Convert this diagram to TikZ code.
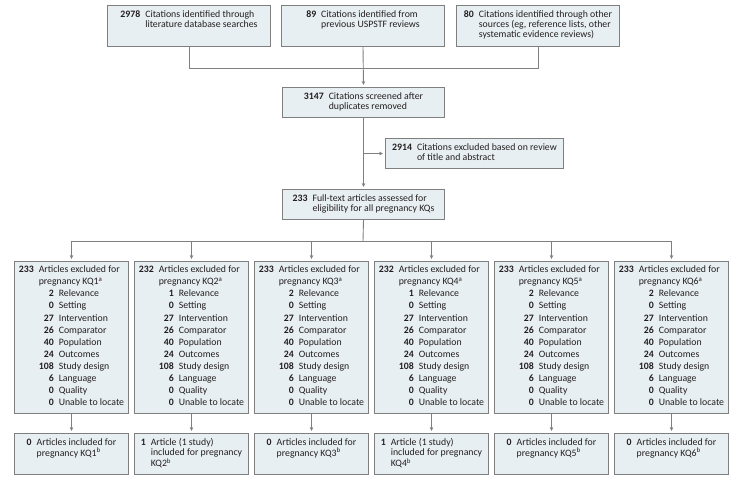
\documentclass[tikz,border=0pt]{standalone}
\usepackage{fontspec}
\setmainfont{Carlito}
\usetikzlibrary{arrows.meta}
\definecolor{boxfill}{HTML}{E8EFF3}
\definecolor{boxline}{HTML}{7F7F7F}
\definecolor{txtcol}{HTML}{231F20}
\tikzset{
  box/.style={draw=boxline, fill=boxfill, line width=1pt, inner sep=0pt, anchor=north west},
  toptext/.style={inner sep=0pt, text=txtcol, anchor=north, font=\fontsize{9.8}{10}\selectfont},
  kqtext/.style={inner sep=0pt, text=txtcol, anchor=north, font=\fontsize{9.8}{12.1}\selectfont},
  conn/.style={draw=boxline, line width=0.9pt},
  arr/.style={conn, -{Stealth[length=4pt,width=3.6pt]}, shorten >=2pt},
}
\newcommand\nl[2]{\begin{tabular}{@{}r@{\hspace{5pt}}l@{}}\textbf{#1} & #2\end{tabular}}
\newcommand\sub[2]{\makebox[15pt][r]{\textbf{#1}}\hspace{5pt}#2}
\begin{document}
\begin{tikzpicture}[x=1pt,y=-1pt]
\useasboundingbox (0,0) rectangle (743,484);
% top boxes
\node[box, minimum width=163pt, minimum height=41pt] (t1) at (107,5) {};
\node[toptext] (t1t) at ([yshift=-5pt]t1.north) {\nl{2978}{Citations identified through\\ & literature database searches}};
\node[box, minimum width=163pt, minimum height=41pt] (t2) at (281,5) {};
\node[toptext] (t2t) at ([yshift=-5pt]t2.north) {\nl{89}{Citations identified from\\ & previous USPSTF reviews}};
\node[box, minimum width=163pt, minimum height=41pt] (t3) at (456,5) {};
\node[toptext] (t3t) at ([yshift=-5pt]t3.north) {\nl{80}{Citations identified through other\\ & sources (eg, reference lists, other\\ & systematic evidence reviews)}};
% screened
\node[box, minimum width=162pt, minimum height=30pt] (s) at (282,87) {};
\node[toptext] (st) at ([yshift=-5pt]s.north) {\nl{3147}{Citations screened after\\ & duplicates removed}};
\node[box, minimum width=178pt, minimum height=30pt] (e) at (385,138) {};
\node[toptext] (et) at ([yshift=-5pt]e.north) {\nl{2914}{Citations excluded based on review\\ & of title and abstract}};
\node[box, minimum width=162pt, minimum height=30pt] (f) at (282,189) {};
\node[toptext] (ft) at ([yshift=-5pt]f.north) {\nl{233}{Full-text articles assessed for\\ & eligibility for all pregnancy KQs}};
% connectors top
\coordinate (m) at (363,68);
\draw[conn] (t1.south) |- (m);
\draw[conn] (t3.south) |- (m);
\draw[arr] (t2.south) -- (s.north);
\draw[arr] (s.south) -- (f.north);
\draw[arr] (s.south |- e.west) -- (e.west);
\coordinate (h) at (363,241);
\draw[conn] (f.south) -- (h);
% KQ boxes
\foreach \i/\n/\r in {1/233/2, 2/232/1, 3/233/2, 4/232/1, 5/233/2, 6/233/2} {
  \node[box, minimum width=114pt, minimum height=152pt] (k\i) at ({14+120*(\i-1)},261) {};
  \node[kqtext] (k\i t) at ([yshift=-3pt]k\i.north) {\begin{tabular}{@{}r@{\hspace{5pt}}l@{}}
    \textbf{\n} & Articles excluded for\\
     & pregnancy KQ\i\textsuperscript{a}\\
     & \sub{\r}{Relevance}\\
     & \sub{0}{Setting}\\
     & \sub{27}{Intervention}\\
     & \sub{26}{Comparator}\\
     & \sub{40}{Population}\\
     & \sub{24}{Outcomes}\\
     & \sub{108}{Study design}\\
     & \sub{6}{Language}\\
     & \sub{0}{Quality}\\
     & \sub{0}{Unable to locate}
  \end{tabular}};
  \draw[arr] (h) -| (k\i.north);
  \node[box, minimum width=114pt, minimum height=41pt] (b\i) at ({14+120*(\i-1)},433) {};
  \draw[arr] (k\i.south) -- (b\i.north);
}
\node[toptext] (b1t) at ([yshift=-5pt]b1.north) {\nl{0}{Articles included for\\ & pregnancy KQ1\textsuperscript{b}}};
\node[toptext] (b2t) at ([yshift=-5pt]b2.north) {\nl{1}{Article (1 study)\\ & included for pregnancy\\ & KQ2\textsuperscript{b}}};
\node[toptext] (b3t) at ([yshift=-5pt]b3.north) {\nl{0}{Articles included for\\ & pregnancy KQ3\textsuperscript{b}}};
\node[toptext] (b4t) at ([yshift=-5pt]b4.north) {\nl{1}{Article (1 study)\\ & included for pregnancy\\ & KQ4\textsuperscript{b}}};
\node[toptext] (b5t) at ([yshift=-5pt]b5.north) {\nl{0}{Articles included for\\ & pregnancy KQ5\textsuperscript{b}}};
\node[toptext] (b6t) at ([yshift=-5pt]b6.north) {\nl{0}{Articles included for\\ & pregnancy KQ6\textsuperscript{b}}};
\end{tikzpicture}
\end{document}
